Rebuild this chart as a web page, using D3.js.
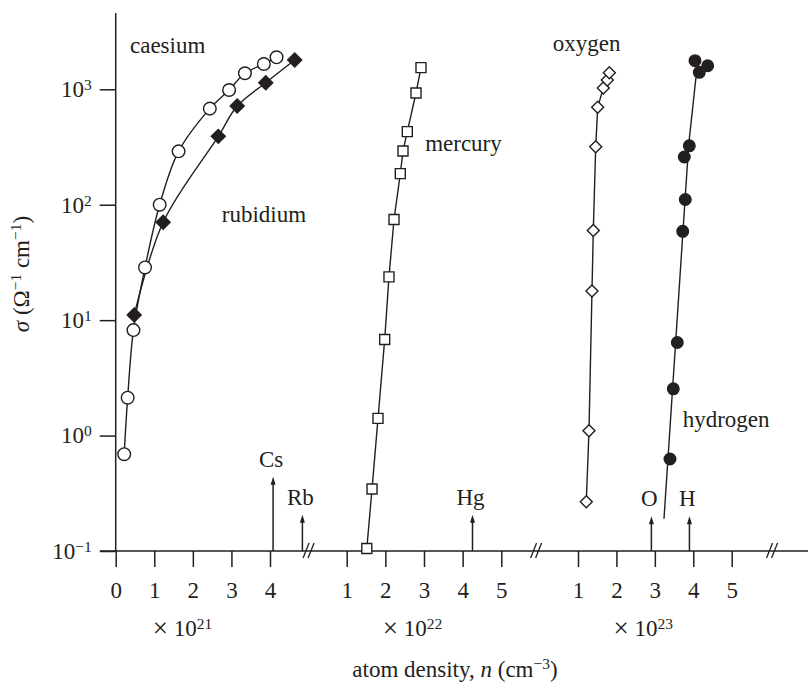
<!DOCTYPE html>
<html lang="en">
<head>
<meta charset="UTF-8">
<title>Conductivity against atom density</title>
<script src="https://d3js.org/d3.v7.min.js"></script>
<style>
  body { margin: 0; background: #fff; }
  svg { display: block; font-family: "Liberation Serif", "Times New Roman", serif; }
  text { fill: #231f20; }
</style>
</head>
<body>
<div id="chart"></div>
<script>
// sigma (ohm^-1 cm^-1) against atom density n (in units of each section's multiplier)
const caesium = [[0.22, 0.69], [0.31, 2.13], [0.46, 8.2], [0.76, 28.6], [1.14, 100], [1.63, 290],
                 [2.44, 680], [2.94, 986], [3.35, 1377], [3.84, 1656], [4.17, 1893]];
const rubidium = [[0.48, 11.1], [1.23, 70.6], [2.66, 391], [3.15, 716], [3.89, 1141], [4.64, 1795]];
const mercury = [[1.52, 0.105], [1.655, 0.344], [1.81, 1.41], [1.983, 6.8], [2.094, 23.7], [2.224, 74.5],
                 [2.387, 186], [2.457, 292], [2.568, 430], [2.793, 929], [2.922, 1540]];
const oxygen = [[1.216, 0.267], [1.286, 1.10], [1.364, 17.9], [1.398, 59.8], [1.461, 318],
                [1.513, 698], [1.658, 1026], [1.763, 1204], [1.815, 1393]];
const hydrogen = [[3.394, 0.627], [3.48, 2.54], [3.584, 6.4], [3.725, 58.8], [3.792, 111], [3.766, 259],
                  [3.897, 324], [4.157, 1403], [4.045, 1770], [4.375, 1600]];
const hydrogenFit = [[3.238, 0.19], [3.88, 330], [4.07, 1270]];

// axis ticks
const yTicks = [0.1, 1, 10, 100, 1000];
const yTickExponents = ["\u22121", "0", "1", "2", "3"];
const sectionTicks = [[0, 1, 2, 3, 4], [1, 2, 3, 4, 5], [1, 2, 3, 4, 5]];
const sectionExponents = ["21", "22", "23"];

// metal-insulator transition densities (arrows on the axis)
const transitions = [
    { label: "Cs", section: 0, n: 4.08, top: 0.44 },
    { label: "Rb", section: 0, n: 4.84, top: 0.206 },
    { label: "Hg", section: 1, n: 4.255, top: 0.206 },
    { label: "O", section: 2, n: 2.91, top: 0.2 },
    { label: "H", section: 2, n: 3.9, top: 0.2 }
];

const seriesLabels = [
    { text: "caesium", section: 0, n: 0.37, sigma: 2051 },
    { text: "rubidium", section: 0, n: 2.75, sigma: 70.6 },
    { text: "mercury", section: 1, n: 3.03, sigma: 292 },
    { text: "oxygen", section: 2, n: 0.342, sigma: 2160 },
    { text: "hydrogen", section: 2, n: 3.725, sigma: 1.19 }
];

const width = 808, height = 682;
const ink = "#231f20";
const fontSize = 23, supSize = 15.5;
const axisY = 551, axisX = 115.7, axisTop = 13;

const svg = d3.select("#chart").append("svg")
    .attr("width", width)
    .attr("height", height);

const y = d3.scaleLog().domain([0.1, 1000]).range([axisY, 89.3]);

// three broken x sections, each with its own multiplier
const xScales = [
    d3.scaleLinear().domain([0, 4]).range([axisX, 270]),
    d3.scaleLinear().domain([1, 5]).range([346.7, 501.3]),
    d3.scaleLinear().domain([1, 5]).range([578, 731.7])
];
const breakValues = [5, 5.9, 6.05];
const multiplierAt = [1.73, 2.7, 2.7];

// axis lines
svg.append("line")
    .attr("x1", 100).attr("x2", width)
    .attr("y1", axisY).attr("y2", axisY)
    .attr("stroke", ink).attr("stroke-width", 1.5);
svg.append("line")
    .attr("x1", axisX).attr("x2", axisX)
    .attr("y1", axisY).attr("y2", axisTop)
    .attr("stroke", ink).attr("stroke-width", 1.5);

// y axis
const yAxis = svg.append("g")
    .attr("transform", `translate(${axisX},0)`)
    .call(d3.axisLeft(y).tickValues(yTicks).tickSize(16).tickPadding(8).tickFormat(""))
    .attr("font-family", null)
    .attr("font-size", null);
yAxis.select(".domain").remove();
yAxis.selectAll(".tick line").attr("stroke", ink).attr("stroke-width", 1.5);
yAxis.selectAll(".tick text")
    .attr("font-size", fontSize)
    .attr("fill", ink)
    .each(function(d, i) {
        const t = d3.select(this);
        t.append("tspan").text("10");
        t.append("tspan").attr("dy", -7).attr("font-size", supSize).text(yTickExponents[i]);
    });

// x axes
xScales.forEach((x, i) => {
    const g = svg.append("g")
        .attr("transform", `translate(0,${axisY})`)
        .call(d3.axisBottom(x).tickValues(sectionTicks[i]).tickSize(16).tickPadding(15).tickFormat(d3.format("d")))
        .attr("font-family", null)
        .attr("font-size", null);
    g.select(".domain").remove();
    g.selectAll(".tick line").attr("stroke", ink).attr("stroke-width", 1.5);
    g.selectAll(".tick text").attr("font-size", fontSize).attr("fill", ink);

    // multiplier
    const m = svg.append("text")
        .attr("x", x(multiplierAt[i]))
        .attr("y", 636)
        .attr("text-anchor", "middle")
        .attr("font-size", fontSize);
    m.append("tspan").attr("font-size", 27).attr("dy", 1).text("\u00d7");
    m.append("tspan").attr("dy", -1).text(" 10");
    m.append("tspan").attr("dy", -7).attr("font-size", supSize).text(sectionExponents[i]);

    // break mark
    const bx = x(breakValues[i]);
    [-2.5, 2.5].forEach(k => {
        svg.append("line")
            .attr("x1", bx + k - 3).attr("y1", axisY + 7)
            .attr("x2", bx + k + 3).attr("y2", axisY - 8)
            .attr("stroke", ink).attr("stroke-width", 1.3);
    });
});

// axis titles
const xTitle = svg.append("text")
    .attr("x", 455).attr("y", 677)
    .attr("text-anchor", "middle")
    .attr("font-size", fontSize);
xTitle.append("tspan").text("atom density, ");
xTitle.append("tspan").attr("font-style", "italic").text("n");
xTitle.append("tspan").text(" (cm");
xTitle.append("tspan").attr("dy", -8).attr("font-size", supSize).text("\u22123");
xTitle.append("tspan").attr("dy", 8).text(")");

const yTitle = svg.append("text")
    .attr("transform", "translate(29,274) rotate(-90)")
    .attr("text-anchor", "middle")
    .attr("font-size", fontSize);
yTitle.append("tspan").attr("font-style", "italic").text("\u03c3");
yTitle.append("tspan").text(" (\u03a9");
yTitle.append("tspan").attr("dy", -8).attr("font-size", supSize).text("\u22121");
yTitle.append("tspan").attr("dy", 8).text(" cm");
yTitle.append("tspan").attr("dy", -8).attr("font-size", supSize).text("\u22121");
yTitle.append("tspan").attr("dy", 8).text(")");

// transition arrows
transitions.forEach(t => {
    const x = xScales[t.section](t.n);
    const tip = y(t.top);
    svg.append("line")
        .attr("x1", x).attr("x2", x)
        .attr("y1", axisY).attr("y2", tip + 4)
        .attr("stroke", ink).attr("stroke-width", 1.5);
    svg.append("path")
        .attr("d", `M${x},${tip}L${x - 2.5},${tip + 8}L${x + 2.5},${tip + 8}Z`)
        .attr("fill", ink);
    svg.append("text")
        .attr("x", x - 2).attr("y", tip - 10)
        .attr("text-anchor", "middle")
        .attr("font-size", fontSize)
        .text(t.label);
});

// curves
function drawLine(data, section, curve) {
    const x = xScales[section];
    const line = d3.line()
        .x(d => x(d[0]))
        .y(d => y(d[1]))
        .curve(curve);
    svg.append("path")
        .datum(data)
        .attr("d", line)
        .attr("fill", "none")
        .attr("stroke", ink)
        .attr("stroke-width", 1.4);
}

drawLine(caesium, 0, d3.curveCatmullRom.alpha(0.5));
drawLine(rubidium, 0, d3.curveCatmullRom.alpha(0.5));
drawLine(mercury, 1, d3.curveLinear);
drawLine(oxygen, 2, d3.curveLinear);
drawLine(hydrogenFit, 2, d3.curveLinear);

// markers
function drawMarkers(data, section, type, size, rotate, filled) {
    const x = xScales[section];
    svg.append("g")
        .selectAll("path")
        .data(data)
        .join("path")
        .attr("transform", d => `translate(${x(d[0])},${y(d[1])}) rotate(${rotate})`)
        .attr("d", d3.symbol().type(type).size(size))
        .attr("fill", filled ? ink : "#fff")
        .attr("stroke", ink)
        .attr("stroke-width", 1.4);
}

drawMarkers(caesium, 0, d3.symbolCircle, 125, 0, false);
drawMarkers(rubidium, 0, d3.symbolSquare, 98, 45, true);
drawMarkers(mercury, 1, d3.symbolSquare, 100, 0, false);
drawMarkers(oxygen, 2, d3.symbolSquare, 72, 45, false);
drawMarkers(hydrogen, 2, d3.symbolCircle, 105, 0, true);

// series labels
seriesLabels.forEach(s => {
    svg.append("text")
        .attr("x", xScales[s.section](s.n))
        .attr("y", y(s.sigma))
        .attr("font-size", fontSize)
        .text(s.text);
});
</script>
</body>
</html>
